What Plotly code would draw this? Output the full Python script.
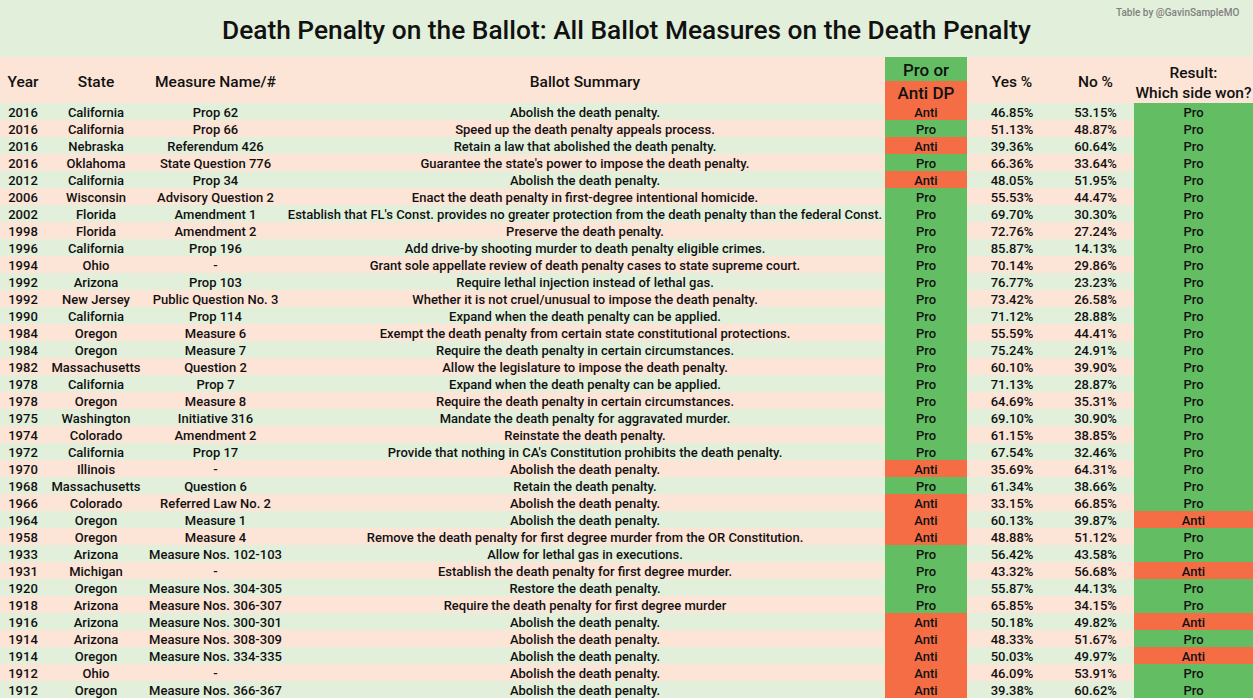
import plotly.graph_objects as go

# ---------------- data ----------------
years = ["2016", "2016", "2016", "2016", "2012", "2006", "2002", "1998", "1996", "1994",
         "1992", "1992", "1990", "1984", "1984", "1982", "1978", "1978", "1975", "1974",
         "1972", "1970", "1968", "1966", "1964", "1958", "1933", "1931", "1920", "1918",
         "1916", "1914", "1914", "1912", "1912"]
states = ["California", "California", "Nebraska", "Oklahoma", "California", "Wisconsin", "Florida",
          "Florida", "California", "Ohio", "Arizona", "New Jersey", "California", "Oregon", "Oregon",
          "Massachusetts", "California", "Oregon", "Washington", "Colorado", "California", "Illinois",
          "Massachusetts", "Colorado", "Oregon", "Oregon", "Arizona", "Michigan", "Oregon", "Arizona",
          "Arizona", "Arizona", "Oregon", "Ohio", "Oregon"]
measures = ["Prop 62", "Prop 66", "Referendum 426", "State Question 776", "Prop 34",
            "Advisory Question 2", "Amendment 1", "Amendment 2", "Prop 196", "-", "Prop 103",
            "Public Question No. 3", "Prop 114", "Measure 6", "Measure 7", "Question 2", "Prop 7",
            "Measure 8", "Initiative 316", "Amendment 2", "Prop 17", "-", "Question 6",
            "Referred Law No. 2", "Measure 1", "Measure 4", "Measure Nos. 102-103", "-",
            "Measure Nos. 304-305", "Measure Nos. 306-307", "Measure Nos. 300-301",
            "Measure Nos. 308-309", "Measure Nos. 334-335", "-", "Measure Nos. 366-367"]
summaries = [
    "Abolish the death penalty.",
    "Speed up the death penalty appeals process.",
    "Retain a law that abolished the death penalty.",
    "Guarantee the state's power to impose the death penalty.",
    "Abolish the death penalty.",
    "Enact the death penalty in first-degree intentional homicide.",
    "Establish that FL's Const. provides no greater protection from the death penalty than the federal Const.",
    "Preserve the death penalty.",
    "Add drive-by shooting murder to death penalty eligible crimes.",
    "Grant sole appellate review of death penalty cases to state supreme court.",
    "Require lethal injection instead of lethal gas.",
    "Whether it is not cruel/unusual to impose the death penalty.",
    "Expand when the death penalty can be applied.",
    "Exempt the death penalty from certain state constitutional protections.",
    "Require the death penalty in certain circumstances.",
    "Allow the legislature to impose the death penalty.",
    "Expand when the death penalty can be applied.",
    "Require the death penalty in certain circumstances.",
    "Mandate the death penalty for aggravated murder.",
    "Reinstate the death penalty.",
    "Provide that nothing in CA's Constitution prohibits the death penalty.",
    "Abolish the death penalty.",
    "Retain the death penalty.",
    "Abolish the death penalty.",
    "Abolish the death penalty.",
    "Remove the death penalty for first degree murder from the OR Constitution.",
    "Allow for lethal gas in executions.",
    "Establish the death penalty for first degree murder.",
    "Restore the death penalty.",
    "Require the death penalty for first degree murder",
    "Abolish the death penalty.",
    "Abolish the death penalty.",
    "Abolish the death penalty.",
    "Abolish the death penalty.",
    "Abolish the death penalty.",
]
stance = ["Anti", "Pro", "Anti", "Pro", "Anti", "Pro", "Pro", "Pro", "Pro", "Pro",
          "Pro", "Pro", "Pro", "Pro", "Pro", "Pro", "Pro", "Pro", "Pro", "Pro",
          "Pro", "Anti", "Pro", "Anti", "Anti", "Anti", "Pro", "Pro", "Pro", "Pro",
          "Anti", "Anti", "Anti", "Anti", "Anti"]
yes_pct = ["46.85%", "51.13%", "39.36%", "66.36%", "48.05%", "55.53%", "69.70%", "72.76%",
           "85.87%", "70.14%", "76.77%", "73.42%", "71.12%", "55.59%", "75.24%", "60.10%",
           "71.13%", "64.69%", "69.10%", "61.15%", "67.54%", "35.69%", "61.34%", "33.15%",
           "60.13%", "48.88%", "56.42%", "43.32%", "55.87%", "65.85%", "50.18%", "48.33%",
           "50.03%", "46.09%", "39.38%"]
no_pct = ["53.15%", "48.87%", "60.64%", "33.64%", "51.95%", "44.47%", "30.30%", "27.24%",
          "14.13%", "29.86%", "23.23%", "26.58%", "28.88%", "44.41%", "24.91%", "39.90%",
          "28.87%", "35.31%", "30.90%", "38.85%", "32.46%", "64.31%", "38.66%", "66.85%",
          "39.87%", "51.12%", "43.58%", "56.68%", "44.13%", "34.15%", "49.82%", "51.67%",
          "49.97%", "53.91%", "60.62%"]
result = ["Pro", "Pro", "Pro", "Pro", "Pro", "Pro", "Pro", "Pro", "Pro", "Pro",
          "Pro", "Pro", "Pro", "Pro", "Pro", "Pro", "Pro", "Pro", "Pro", "Pro",
          "Pro", "Pro", "Pro", "Pro", "Anti", "Pro", "Pro", "Anti", "Pro", "Pro",
          "Anti", "Pro", "Anti", "Pro", "Pro"]

headers = ["Year", "State", "Measure Name/#", "Ballot Summary", "", "Yes %", "No %",
           "Result:<br>Which side won?"]
title_text = "Death Penalty on the Ballot: All Ballot Measures on the Death Penalty"
credit_text = "Table by @GavinSampleMO"

# ---------------- layout / styling ----------------
W, H = 1253, 700
col_edges = [0, 46, 146, 285, 885, 967, 1057, 1134, W]
TITLE_H = 57
HEAD_SPLIT = 81
HEAD_BOTTOM = 103
ROW_H = 17
n = len(years)
DATA_NUDGE = 1.8     # small optical shift of text baseline
HEAD_NUDGE = 3

LIGHT_GREEN = "#E2EFDA"
SALMON = "#FCE4D6"
GREEN = "#63BE63"
ORANGE = "#F46D45"
TXT = "#111111"
FONT = "Roboto"

code = {"Pro": 2, "Anti": 3}

y_edges = [0, TITLE_H, HEAD_SPLIT, HEAD_BOTTOM] + [HEAD_BOTTOM + ROW_H * (i + 1) for i in range(n)]

z = []
z.append([0] * 8)                       # title band
z.append([1, 1, 1, 1, 2, 1, 1, 1])      # header top
z.append([1, 1, 1, 1, 3, 1, 1, 1])      # header bottom
for i in range(n):
    band = 0 if i % 2 == 0 else 1
    z.append([band, band, band, band, code[stance[i]], band, band, code[result[i]]])

colorscale = [[0, LIGHT_GREEN], [1 / 6, LIGHT_GREEN], [1 / 6, SALMON], [0.5, SALMON],
              [0.5, GREEN], [5 / 6, GREEN], [5 / 6, ORANGE], [1, ORANGE]]

fig = go.Figure()
fig.add_trace(go.Heatmap(z=z, x=col_edges, y=y_edges, zmin=0, zmax=3, colorscale=colorscale,
                         showscale=False, hoverinfo="skip", xgap=0, ygap=0))

centers = [(col_edges[k] + col_edges[k + 1]) / 2 for k in range(8)]
row_y = [HEAD_BOTTOM + ROW_H * (i + 0.5) + DATA_NUDGE for i in range(n)]

columns = [years, states, measures, summaries, stance, yes_pct, no_pct, result]
for k, col in enumerate(columns):
    fig.add_trace(go.Scatter(x=[centers[k]] * n, y=row_y, mode="text", text=col,
                             textposition="middle center",
                             textfont=dict(family=FONT, size=13, color=TXT, weight=500),
                             hoverinfo="skip", showlegend=False))

head_y = (TITLE_H + HEAD_BOTTOM) / 2 + HEAD_NUDGE
fig.add_trace(go.Scatter(x=centers[:4] + centers[5:7], y=[head_y] * 6,
                         text=headers[:4] + headers[5:7], mode="text",
                         textposition="middle center",
                         textfont=dict(family=FONT, size=15.5, color=TXT, weight=500),
                         hoverinfo="skip", showlegend=False))
fig.add_trace(go.Scatter(x=[centers[7]], y=[head_y + 1], text=[headers[7]], mode="text",
                         textposition="middle center",
                         textfont=dict(family=FONT, size=15.5, color=TXT, weight=500),
                         hoverinfo="skip", showlegend=False))
fig.add_trace(go.Scatter(x=[centers[4], centers[4]],
                         y=[(TITLE_H + HEAD_SPLIT) / 2 + HEAD_NUDGE,
                            (HEAD_SPLIT + HEAD_BOTTOM) / 2 + HEAD_NUDGE],
                         mode="text", text=["Pro or", "Anti DP"], textposition="middle center",
                         textfont=dict(family=FONT, size=17, color=TXT, weight=500),
                         hoverinfo="skip", showlegend=False))

fig.add_annotation(x=W / 2, y=TITLE_H / 2 + 1, xref="x", yref="y", text=title_text,
                   showarrow=False, font=dict(family=FONT, size=26.3, color=TXT, weight=500))
fig.add_annotation(x=W - 12, y=12, xref="x", yref="y", text=credit_text, xanchor="right",
                   showarrow=False, font=dict(family=FONT, size=10, color="#808080", weight=500))

fig.update_layout(
    width=W, height=H, margin=dict(l=0, r=0, t=0, b=0),
    paper_bgcolor="white", plot_bgcolor="white", showlegend=False,
    xaxis=dict(range=[0, W], visible=False, fixedrange=True),
    yaxis=dict(range=[H, 0], visible=False, fixedrange=True),
)

fig.write_html("out.html", config={"displayModeBar": False},
               post_script="document.body.style.margin='0';document.body.style.overflow='hidden';")
